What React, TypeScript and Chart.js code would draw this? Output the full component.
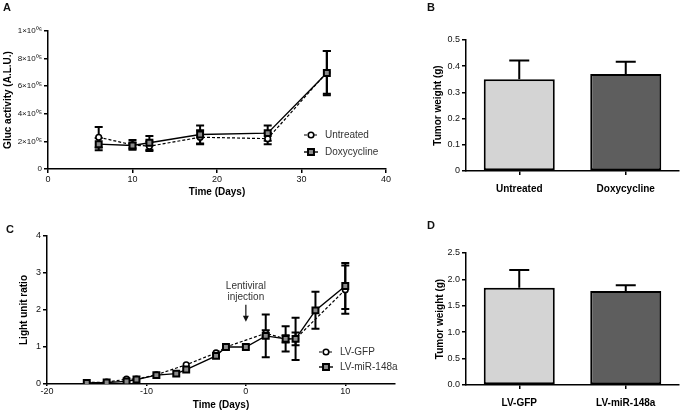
import React, { useEffect, useRef } from 'react';
import { Chart, registerables } from 'chart.js';

Chart.register(...registerables);
Chart.defaults.font.family = '"Liberation Sans", Arial, sans-serif';

// ---------- Panel A data ----------
const daysA = [6, 10, 12, 18, 26, 33];
const untreatedA = [2.3e5, 1.75e5, 1.65e5, 2.3e5, 2.2e5, 7.0e5];
const untreatedErrA = [0.75e5, 0.35e5, 0.35e5, 0.5e5, 0.4e5, 1.55e5];
const doxyA = [1.8e5, 1.7e5, 1.9e5, 2.5e5, 2.6e5, 6.95e5];
const doxyErrA = [0.45e5, 0.2e5, 0.5e5, 0.65e5, 0.55e5, 1.6e5];
const yTickLabelsA = ['0', '2×10⁰⁵', '4×10⁰⁵', '6×10⁰⁵', '8×10⁰⁵', '1×10⁰⁶'];

// ---------- Panel B data ----------
const groupsB = ['Untreated', 'Doxycycline'];
const weightB = [0.35, 0.37];
const weightErrB = [0.072, 0.047];

// ---------- Panel C data ----------
const daysGFP = [-16, -14, -12, -11, -9, -6, -3, -2, 2, 4, 5, 10];
const ratioGFP = [0.04, 0.05, 0.13, 0.13, 0.25, 0.52, 0.84, 1.0, 1.37, 1.22, 1.22, 2.55];
const errGFP = [0, 0, 0, 0, 0, 0, 0, 0, 0.08, 0.1, 0.17, 0.65];
const daysMiR = [-16, -14, -12, -11, -9, -7, -6, -3, -2, 0, 2, 4, 5, 7, 10];
const ratioMiR = [0.03, 0.04, 0.07, 0.12, 0.24, 0.28, 0.39, 0.76, 1.0, 1.0, 1.3, 1.22, 1.22, 1.99, 2.65];
const errMiR = [0, 0, 0, 0, 0, 0, 0, 0, 0, 0, 0.58, 0.34, 0.57, 0.5, 0.62];
const injectionDay = 0;
const injectionArrowTip = 1.68;

// ---------- Panel D data ----------
const groupsD = ['LV-GFP', 'LV-miR-148a'];
const weightD = [1.84, 1.78];
const weightErrD = [0.34, 0.11];

const barColors = ['#d4d4d4', '#5e5e5e'];

// ---------- plugins ----------
function drawErrorBars(chart: any, opts: any) {
  const ctx = chart.ctx;
  const yScale = chart.scales.y;
  ctx.save();
  ctx.strokeStyle = '#000';
  ctx.lineWidth = opts.lineWidth || 2;
  chart.data.datasets.forEach((ds: any, di: number) => {
    if (!ds.errors) return;
    const meta = chart.getDatasetMeta(di);
    meta.data.forEach((el: any, i: number) => {
      const err = ds.errors[i];
      if (!err) return;
      const raw = ds.data[i];
      const v = typeof raw === 'number' ? raw : raw.y;
      const x = el.x;
      const yTop = yScale.getPixelForValue(v + err);
      const yBot = opts.oneSided ? yScale.getPixelForValue(v) : yScale.getPixelForValue(v - err);
      const cw = opts.capHalf || 4;
      ctx.beginPath();
      ctx.moveTo(x, yTop);
      ctx.lineTo(x, yBot);
      ctx.moveTo(x - cw, yTop);
      ctx.lineTo(x + cw, yTop);
      if (!opts.oneSided) {
        ctx.moveTo(x - cw, yBot);
        ctx.lineTo(x + cw, yBot);
      }
      ctx.stroke();
    });
  });
  ctx.restore();
}

const errorBarPlugin = {
  id: 'errorBars',
  beforeDatasetsDraw(chart: any, _args: any, opts: any) {
    if (!opts.after) drawErrorBars(chart, opts);
  },
  afterDatasetsDraw(chart: any, _args: any, opts: any) {
    if (opts.after) drawErrorBars(chart, opts);
  },
};

const seriesKeyPlugin = {
  id: 'seriesKey',
  afterDraw(chart: any, _args: any, opts: any) {
    if (!opts || opts.x === undefined) return;
    const ctx = chart.ctx;
    ctx.save();
    chart.data.datasets.forEach((ds: any, i: number) => {
      const cx = opts.x;
      const cy = opts.y + i * opts.dy;
      ctx.strokeStyle = '#000';
      ctx.lineWidth = ds.borderWidth;
      ctx.setLineDash(ds.borderDash || []);
      ctx.beginPath();
      ctx.moveTo(cx - 7, cy);
      ctx.lineTo(cx + 7, cy);
      ctx.stroke();
      ctx.setLineDash([]);
      ctx.fillStyle = ds.pointBackgroundColor;
      ctx.lineWidth = ds.pointBorderWidth;
      ctx.beginPath();
      if (ds.pointStyle === 'rect') {
        const h = ds.pointRadius * Math.SQRT1_2;
        ctx.rect(cx - h, cy - h, 2 * h, 2 * h);
      } else {
        ctx.arc(cx, cy, ds.pointRadius, 0, Math.PI * 2);
      }
      ctx.fill();
      ctx.stroke();
      ctx.fillStyle = '#333';
      ctx.font = '10px "Liberation Sans", Arial, sans-serif';
      ctx.textBaseline = 'middle';
      ctx.textAlign = 'left';
      ctx.fillText(ds.label, cx + 14, cy);
    });
    ctx.restore();
  },
};

const injectionPlugin = {
  id: 'injection',
  afterDraw(chart: any, _args: any, opts: any) {
    if (!opts || !opts.show) return;
    const ctx = chart.ctx;
    const x = chart.scales.x.getPixelForValue(injectionDay);
    const tip = chart.scales.y.getPixelForValue(injectionArrowTip);
    ctx.save();
    ctx.strokeStyle = '#111';
    ctx.fillStyle = '#111';
    ctx.lineWidth = 1.2;
    ctx.beginPath();
    ctx.moveTo(x, tip - 17);
    ctx.lineTo(x, tip - 5);
    ctx.stroke();
    ctx.beginPath();
    ctx.moveTo(x - 3, tip - 6);
    ctx.lineTo(x + 3, tip - 6);
    ctx.lineTo(x, tip);
    ctx.closePath();
    ctx.fill();
    ctx.fillStyle = '#333';
    ctx.font = '10px "Liberation Sans", Arial, sans-serif';
    ctx.textAlign = 'center';
    ctx.textBaseline = 'middle';
    ctx.fillText('Lentiviral', x, tip - 36);
    ctx.fillText('injection', x, tip - 25);
    ctx.restore();
  },
};

// ---------- shared axis styling ----------
const border = { display: true, color: '#000', width: 1.5 };
const grid = { display: true, drawOnChartArea: false, drawTicks: true, tickLength: 4, color: '#000', lineWidth: 1.5 };
const tickFont = { size: 9 };
const titleFont = { size: 10, weight: 'bold' as const };

function lineDatasets(labelA: string, xsA: number[], ysA: number[], errA: number[], labelB: string, xsB: number[], ysB: number[], errB: number[]) {
  return [
    {
      label: labelA,
      data: xsA.map((d, i) => ({ x: d, y: ysA[i] })),
      errors: errA,
      borderColor: '#000',
      borderWidth: 1.2,
      borderDash: [3, 2],
      pointStyle: 'circle',
      pointRadius: 2.8,
      pointBackgroundColor: '#fff',
      pointBorderColor: '#000',
      pointBorderWidth: 1.6,
      fill: false,
      tension: 0,
      order: 1,
    },
    {
      label: labelB,
      data: xsB.map((d, i) => ({ x: d, y: ysB[i] })),
      errors: errB,
      borderColor: '#000',
      borderWidth: 1.4,
      borderDash: [],
      pointStyle: 'rect',
      pointRadius: 4.2,
      pointBackgroundColor: '#8a8a8a',
      pointBorderColor: '#000',
      pointBorderWidth: 2,
      fill: false,
      tension: 0,
      order: 0,
    },
  ];
}

function makeA() {
  return {
    type: 'line',
    data: {
      datasets: lineDatasets('Untreated', daysA, untreatedA, untreatedErrA, 'Doxycycline', daysA, doxyA, doxyErrA),
    },
    options: {
      animation: false,
      responsive: false,
      layout: { padding: { left: 0, right: 14, top: 31, bottom: 0 } },
      plugins: {
        legend: { display: false },
        tooltip: { enabled: false },
        errorBars: { capHalf: 4, lineWidth: 2 },
        seriesKey: { x: 311, y: 135, dy: 17 },
      },
      scales: {
        x: {
          type: 'linear',
          min: 0,
          max: 40,
          border,
          grid,
          ticks: { stepSize: 10, color: '#111', font: tickFont, padding: 1, maxRotation: 0 },
          title: { display: true, text: 'Time (Days)', color: '#000', font: titleFont, padding: { top: 0, bottom: 7 } },
          afterFit: (s: any) => { s.height = 36; },
        },
        y: {
          min: 0,
          max: 1e6,
          border,
          grid,
          ticks: { stepSize: 2e5, color: '#111', font: { size: 8 }, padding: 2, callback: (_v: any, i: number) => yTickLabelsA[i] },
          title: { display: true, text: 'Gluc activity (A.L.U.)', color: '#000', font: titleFont, padding: { top: 2, bottom: 0 } },
          afterFit: (s: any) => { s.width = 48; },
        },
      },
    },
    plugins: [errorBarPlugin, seriesKeyPlugin],
  };
}

function makeC() {
  return {
    type: 'line',
    data: {
      datasets: lineDatasets('LV-GFP', daysGFP, ratioGFP, errGFP, 'LV-miR-148a', daysMiR, ratioMiR, errMiR),
    },
    options: {
      animation: false,
      responsive: false,
      layout: { padding: { left: 0, right: 15, top: 31, bottom: 0 } },
      plugins: {
        legend: { display: false },
        tooltip: { enabled: false },
        errorBars: { capHalf: 4, lineWidth: 2 },
        seriesKey: { x: 326, y: 147, dy: 15 },
        injection: { show: true },
      },
      scales: {
        x: {
          type: 'linear',
          min: -20,
          max: 15,
          border,
          grid: { ...grid, tickLength: 2 },
          ticks: { stepSize: 10, includeBounds: false, color: '#111', font: tickFont, padding: 0, maxRotation: 0 },
          title: { display: true, text: 'Time (Days)', color: '#000', font: titleFont, padding: { top: 0, bottom: 2 } },
          afterFit: (s: any) => { s.height = 29; },
        },
        y: {
          min: 0,
          max: 4,
          border,
          grid,
          ticks: { stepSize: 1, color: '#111', font: tickFont, padding: 2 },
          title: { display: true, text: 'Light unit ratio', color: '#000', font: titleFont, padding: { top: 18, bottom: 0 } },
          afterFit: (s: any) => { s.width = 47; },
        },
      },
    },
    plugins: [errorBarPlugin, seriesKeyPlugin, injectionPlugin],
  };
}

function makeBar(labels: string[], values: number[], errs: number[], yMax: number, yStep: number, fmt: (v: number) => string, top: number, xHeight: number, titlePad: number) {
  return {
    type: 'bar',
    data: {
      labels,
      datasets: [
        {
          data: values,
          errors: errs,
          backgroundColor: barColors,
          borderColor: '#000',
          borderWidth: 2,
          borderSkipped: false,
          barPercentage: 0.667,
          categoryPercentage: 1,
        },
      ],
    },
    options: {
      animation: false,
      responsive: false,
      layout: { padding: { left: 0, right: 4, top, bottom: 0 } },
      plugins: {
        legend: { display: false },
        tooltip: { enabled: false },
        errorBars: { capHalf: 10, lineWidth: 2, oneSided: true, after: true },
      },
      scales: {
        x: {
          type: 'category',
          offset: true,
          border,
          grid: { ...grid, offset: false },
          ticks: { color: '#000', font: { size: 10, weight: 'bold' }, padding: 8 },
          afterFit: (s: any) => { s.height = xHeight; },
        },
        y: {
          min: 0,
          max: yMax,
          border,
          grid,
          ticks: { stepSize: yStep, color: '#111', font: tickFont, padding: 2, callback: (v: any) => fmt(Number(v)) },
          title: { display: true, text: 'Tumor weight (g)', color: '#000', font: titleFont, padding: { top: titlePad, bottom: 0 } },
          afterFit: (s: any) => { s.width = 56; },
        },
      },
    },
    plugins: [errorBarPlugin],
  };
}

function makeB() {
  return makeBar(groupsB, weightB, weightErrB, 0.5, 0.1, (v) => (v === 0 ? '0' : String(Math.round(v * 10) / 10)), 40, 34, 22);
}

function makeD() {
  return makeBar(groupsD, weightD, weightErrD, 2.5, 0.5, (v) => v.toFixed(1), 48, 28, 24);
}

function ChartPanel({ left, top, width, height, make }: any) {
  const ref = useRef<HTMLCanvasElement | null>(null);
  useEffect(() => {
    const chart = new Chart(ref.current as any, make() as any);
    return () => chart.destroy();
  }, []);
  return (
    <canvas
      ref={ref}
      width={width}
      height={height}
      style={{ position: 'absolute', left, top, width, height }}
    />
  );
}

const letterStyle: any = {
  position: 'absolute',
  fontFamily: '"Liberation Sans", Arial, sans-serif',
  fontSize: 11,
  fontWeight: 'bold',
  color: '#111',
  lineHeight: '12px',
};

export default function App() {
  return (
    <div style={{ position: 'fixed', left: 0, top: 0, width: 683, height: 413, background: '#fff', overflow: 'hidden' }}>
      <ChartPanel left={0} top={0} width={400} height={205} make={makeA} />
      <ChartPanel left={410} top={0} width={273} height={205} make={makeB} />
      <ChartPanel left={0} top={205} width={410} height={208} make={makeC} />
      <ChartPanel left={410} top={205} width={273} height={208} make={makeD} />
      <div style={{ ...letterStyle, left: 3, top: 1 }}>A</div>
      <div style={{ ...letterStyle, left: 427, top: 1 }}>B</div>
      <div style={{ ...letterStyle, left: 6, top: 223 }}>C</div>
      <div style={{ ...letterStyle, left: 427, top: 219 }}>D</div>
    </div>
  );
}
